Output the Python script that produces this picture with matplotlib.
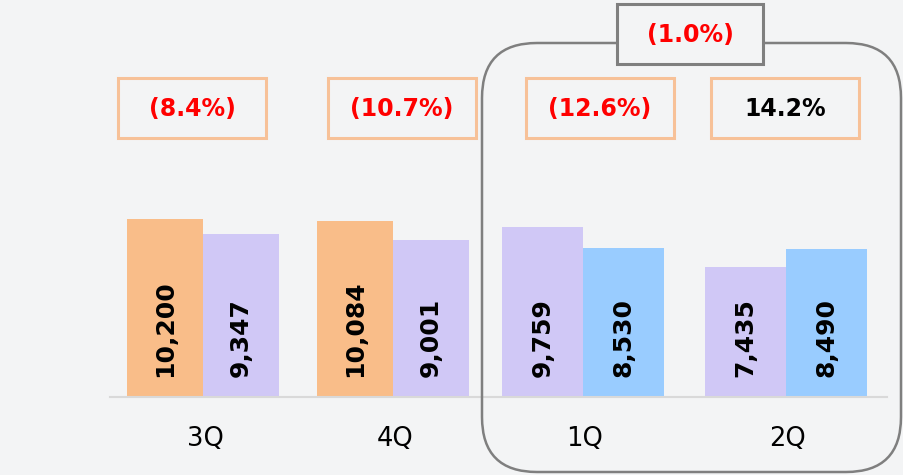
import matplotlib
matplotlib.use("Agg")
import matplotlib.pyplot as plt
from matplotlib.patches import Rectangle, FancyBboxPatch

# ---- data ----
categories = ["3Q", "4Q", "1Q", "2Q"]
series_a = [10200, 10084, 9759, 7435]
series_b = [9347, 9001, 8530, 8490]
growth_labels = ["(8.4%)", "(10.7%)", "(12.6%)", "14.2%"]
growth_negative = [True, True, True, False]
half_label = "(1.0%)"

# ---- styles / layout ----
ORANGE = "#F9BD89"
LAV = "#D0C8F6"
BLUE = "#99CCFF"
BOX_EDGE = "#F7C198"
GRAY = "#7F7F7F"
BG = "#F3F4F5"
colors_a = [ORANGE, ORANGE, LAV, LAV]
colors_b = [LAV, LAV, BLUE, BLUE]
centers = [203, 393, 583, 786]
widths = [76, 76, 81, 81]

W, H = 904, 475
fig = plt.figure(figsize=(W / 100, H / 100), dpi=100)
fig.patch.set_facecolor(BG)

base_px = 396
px_per_unit = 177 / 10200.0
ax = fig.add_axes([0, (H - base_px) / H, 1, base_px / H])
ax.set_xlim(0, W)
ax.set_ylim(0, base_px / px_per_unit)
ax.axis("off")

for i, cat in enumerate(categories):
    c, w = centers[i], widths[i]
    ax.bar(c - w / 2, series_a[i], width=w, color=colors_a[i], zorder=2)
    ax.bar(c + w / 2, series_b[i], width=w, color=colors_b[i], zorder=2)
    for xx, v in ((c - w / 2, series_a[i]), (c + w / 2, series_b[i])):
        ax.text(xx, 1100, f"{v:,}", rotation=90, ha="center", va="bottom",
                fontsize=18, fontweight="bold", color="black", zorder=3)

# overlay axes in pixel coordinates for decorations
ov = fig.add_axes([0, 0, 1, 1], facecolor="none")
ov.set_xlim(0, W)
ov.set_ylim(H, 0)
ov.axis("off")

# baseline
ov.plot([110, 887], [base_px + 1, base_px + 1], color="#D9D9D9", lw=1.5, zorder=1)

# category labels
for i, cat in enumerate(categories):
    ov.text(centers[i] + 2, 439, cat, ha="center", va="center", fontsize=18.5, color="black")

# growth boxes
box_centers = [192, 402, 600, 785]
for i, lab in enumerate(growth_labels):
    bx = box_centers[i]
    ov.add_patch(Rectangle((bx - 74, 78), 148, 60, facecolor="none",
                           edgecolor=BOX_EDGE, lw=2.2, zorder=4))
    ov.text(bx, 109, lab, ha="center", va="center", fontsize=17, fontweight="bold",
            color="#FF0000" if growth_negative[i] else "black", zorder=5)

# rounded group frame
ov.add_patch(FancyBboxPatch((482, 43), 419, 429, boxstyle="round,pad=0,rounding_size=55",
                            facecolor="none", edgecolor=GRAY, lw=1.8, zorder=3))
# half-year box
ov.add_patch(Rectangle((617, 4), 146, 60, facecolor=BG, edgecolor=GRAY, lw=2.2, zorder=4))
ov.text(690, 35, half_label, ha="center", va="center", fontsize=17, fontweight="bold",
        color="#FF0000", zorder=5)

fig.savefig("out.png", dpi=100, facecolor=BG)
